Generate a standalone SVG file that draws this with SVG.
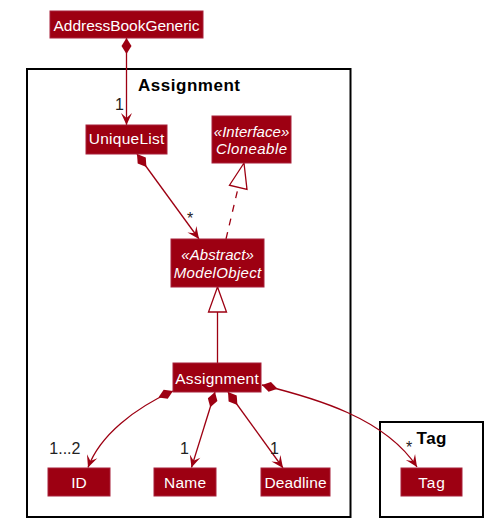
<svg xmlns="http://www.w3.org/2000/svg" width="495" height="530" viewBox="0 0 495 530">
<style>
.pkg{fill:none;stroke:#000;stroke-width:2}
.ptitle{font-family:"Liberation Sans",Arial,sans-serif;font-weight:bold;font-size:17px;fill:#000;text-anchor:middle}
.node rect{fill:#9D0012;stroke:#A8203A;stroke-width:1}
.node text{font-family:"Liberation Sans",Arial,sans-serif;font-size:15.5px;fill:#fff;text-anchor:middle}
.node text.st{font-style:italic;font-size:15px}
.conn{fill:none;stroke:#9D0012;stroke-width:1.3}
.dash{stroke-dasharray:7,7}
.comp{marker-start:url(#diamond);marker-end:url(#arrow)}
.gen{marker-end:url(#tri)}
.lbl{font-family:"Liberation Sans",Arial,sans-serif;font-size:16px;fill:#222}
</style>
<defs>
<marker id="diamond" viewBox="-1 -7 19 14" refX="0" refY="0" markerWidth="19" markerHeight="14" markerUnits="userSpaceOnUse" orient="auto">
<path d="M0,0 L8,-5 L16,0 L8,5 Z" fill="#9D0012"/>
</marker>
<marker id="arrow" viewBox="-14 -7 16 14" refX="0" refY="0" markerWidth="16" markerHeight="14" markerUnits="userSpaceOnUse" orient="auto">
<path d="M0,0 L-12,-5.5 L-7,0 L-12,5.5 Z" fill="#9D0012"/>
</marker>
<marker id="tri" viewBox="-27 -11 30 22" refX="0" refY="0" markerWidth="30" markerHeight="22" markerUnits="userSpaceOnUse" orient="auto">
<path d="M0,0 L-25,-9 L-25,9 Z" fill="#fff" stroke="#9D0012" stroke-width="1.3"/>
</marker>
</defs>
<rect width="495" height="530" fill="#fff"/>

<g id="pkg-assignment">
<rect class="pkg" x="27" y="69" width="323.5" height="448"/>
<text class="ptitle" x="189" y="90.5" textLength="102">Assignment</text>
</g>
<g id="pkg-tag">
<rect class="pkg" x="380" y="422" width="103" height="95"/>
<text class="ptitle" x="431.5" y="443.5" textLength="30">Tag</text>
</g>

<g id="connectors">
<path class="conn comp" d="M126.5,38 L126.5,125"/>
<path class="conn comp" d="M137,154 L199,239"/>
<path class="conn dash gen" d="M226,239 L244,163"/>
<path class="conn gen" d="M217.5,363 L217.5,287"/>
<path class="conn comp" d="M173,391 C135,408 100,435 88,467.5"/>
<path class="conn comp" d="M215,392 L191.5,467.5"/>
<path class="conn comp" d="M228,392 L283,468"/>
<path class="conn comp" d="M262,385 C315,398 385,418 417,467"/>
<text class="lbl" x="115" y="110">1</text>
<text class="lbl" x="190" y="224" text-anchor="middle">*</text>
<text class="lbl" x="49.3" y="454">1...2</text>
<text class="lbl" x="180" y="454">1</text>
<text class="lbl" x="270" y="454">1</text>
<text class="lbl" x="406" y="453">*</text>
</g>

<g id="AddressBookGeneric" class="node">
<rect x="50" y="11" width="153" height="27"/>
<text x="126.5" y="30.5" textLength="146">AddressBookGeneric</text>
</g>
<g id="UniqueList" class="node">
<rect x="86" y="125" width="81" height="29"/>
<text x="126.5" y="144" textLength="75.5">UniqueList</text>
</g>
<g id="Cloneable" class="node">
<rect x="212" y="116" width="79" height="47"/>
<text class="st" x="251.5" y="137" textLength="75.5">«Interface»</text>
<text class="st" x="251.5" y="154" textLength="71">Cloneable</text>
</g>
<g id="ModelObject" class="node">
<rect x="171" y="239" width="93" height="48"/>
<text class="st" x="217.5" y="260" textLength="72.5">«Abstract»</text>
<text class="st" x="217.5" y="277.5" textLength="87.5">ModelObject</text>
</g>
<g id="Assignment" class="node">
<rect x="173" y="363" width="88" height="29"/>
<text x="217" y="383.5" textLength="83.5">Assignment</text>
</g>
<g id="ID" class="node">
<rect x="48" y="468" width="62" height="28"/>
<text x="79" y="487.5">ID</text>
</g>
<g id="Name" class="node">
<rect x="154" y="468" width="62" height="28"/>
<text x="185" y="487.5" textLength="42">Name</text>
</g>
<g id="Deadline" class="node">
<rect x="261" y="468" width="69" height="28"/>
<text x="295.5" y="487.5" textLength="62">Deadline</text>
</g>
<g id="Tag" class="node">
<rect x="401" y="468" width="61" height="28"/>
<text x="431.5" y="487.5" textLength="26.5">Tag</text>
</g>
</svg>
